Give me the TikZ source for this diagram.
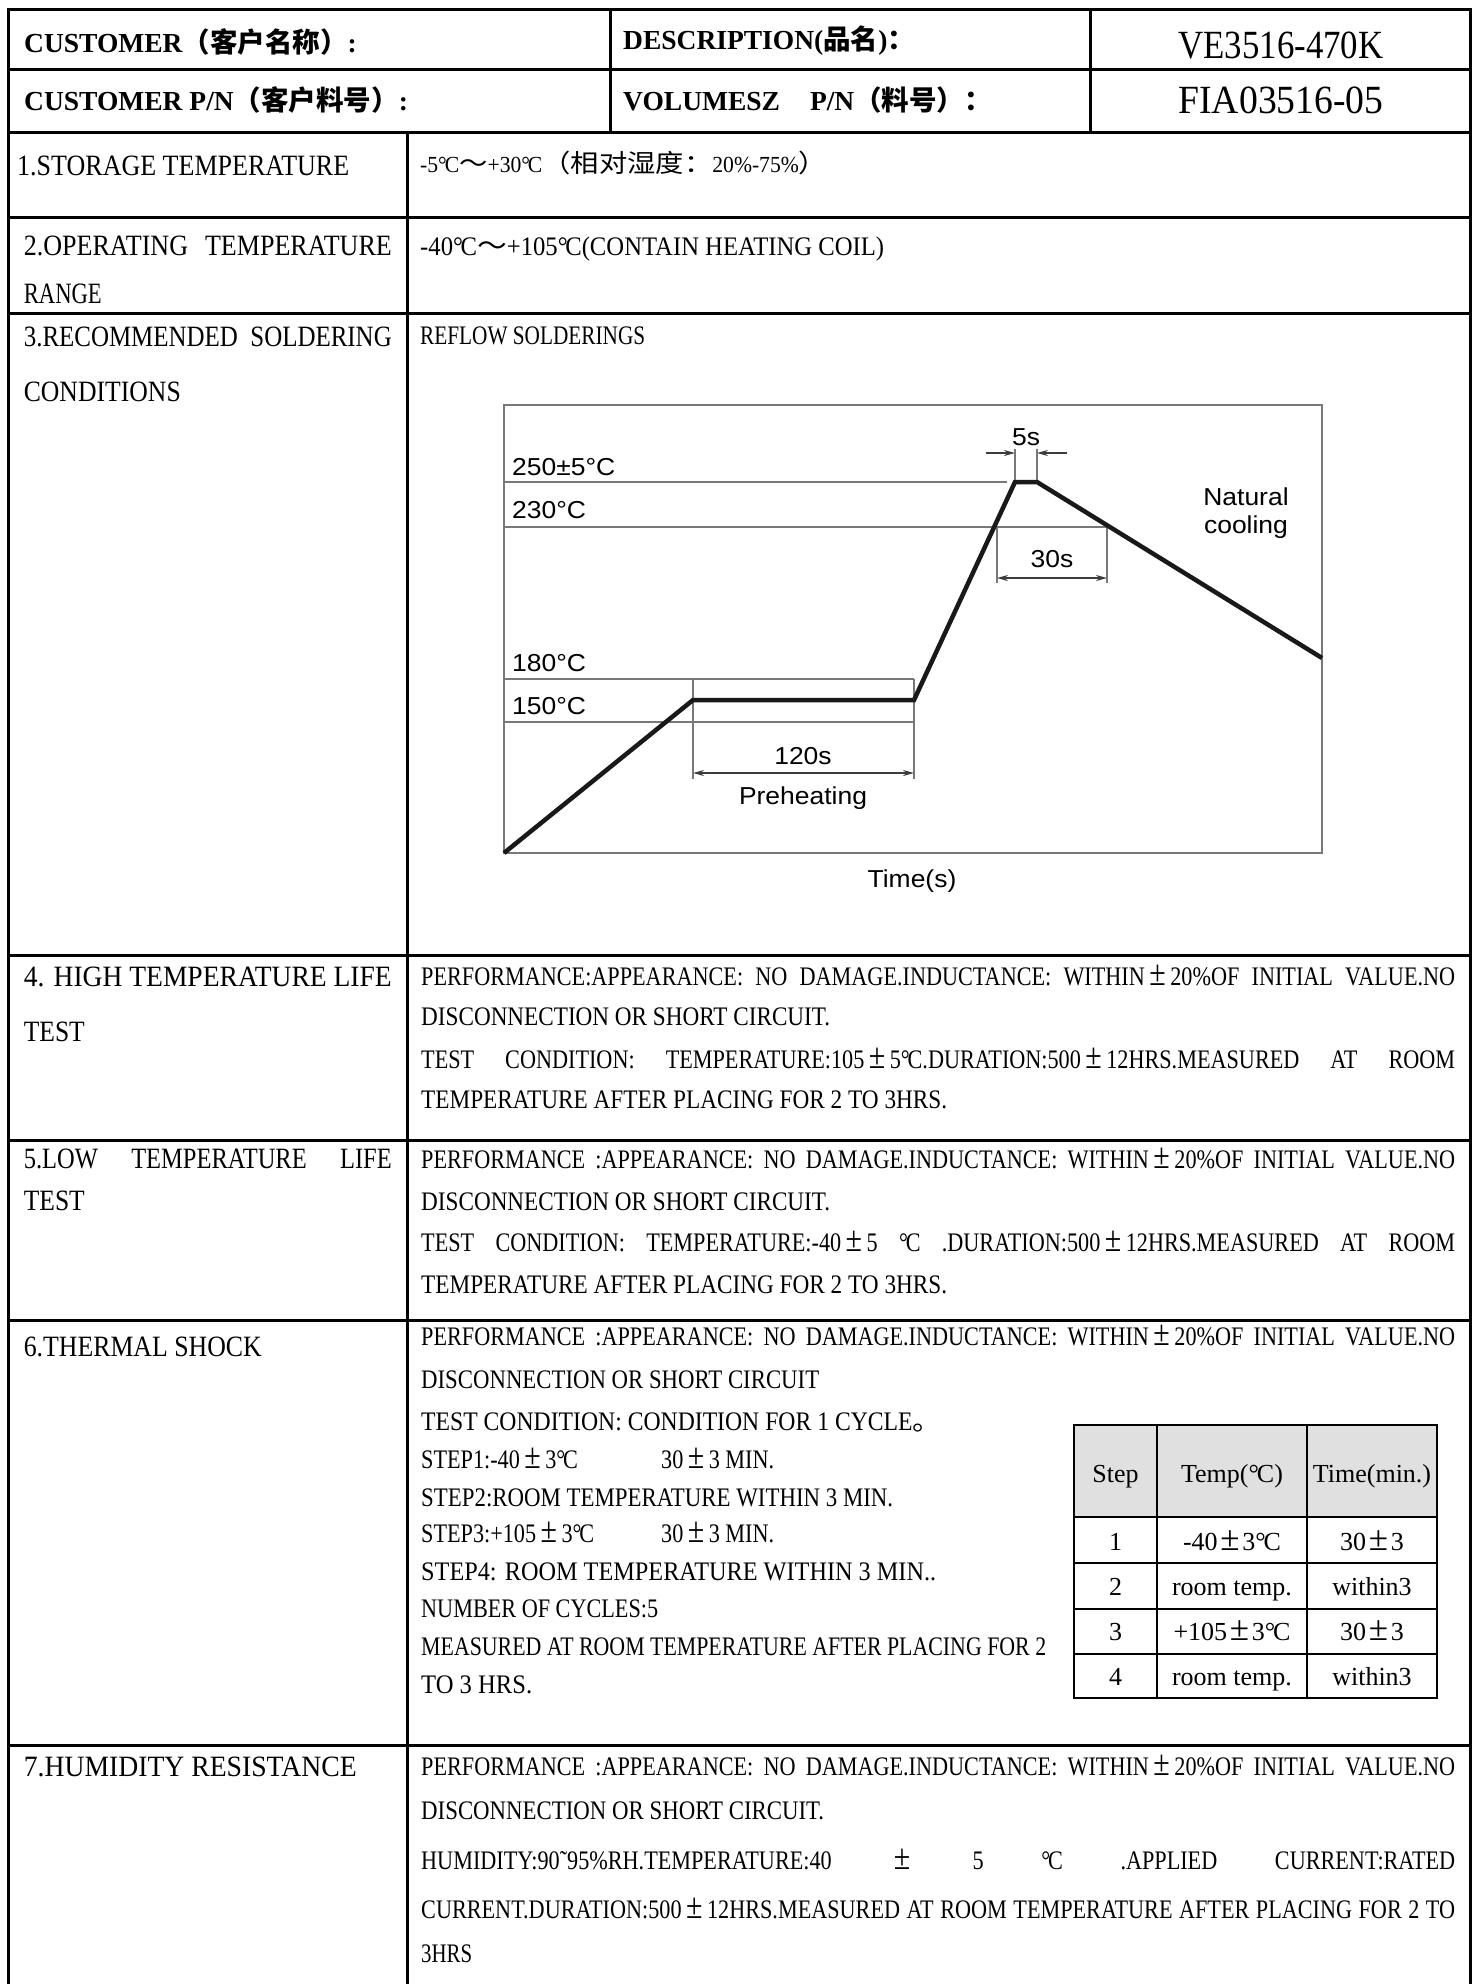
\documentclass[tikz,border=0pt]{standalone}
\usepackage{fontspec}
\usepackage{graphicx}
\usetikzlibrary{arrows.meta}
\setmainfont{Liberation Serif}
\newfontfamily\bodyf[FakeStretch=0.83]{Liberation Serif}
\newfontfamily\cjkf{Noto Sans CJK SC}
\newfontfamily\chartf[FakeStretch=1.08]{Liberation Sans}
\newcommand{\zhx}[1]{{\cjkf #1}}
\newcommand{\pmx}{\makebox[0.95em]{\scalebox{1.35}{±}}}
\newcommand{\dgc}{°\kern-0.08em C}
\newsavebox\jbox
\newcommand{\jfit}[2]{\sbox\jbox{#2}\ifdim\wd\jbox>#1\relax\resizebox{#1}{\height}{\usebox\jbox}\else\makebox[#1][s]{#2}\fi}
\newcommand{\jv}[1]{\jfit{1034pt}{#1}}
\newcommand{\jlab}[1]{\jfit{368pt}{#1}}
\newcommand{\fitw}[2]{\resizebox{#1}{\height}{#2}}
\definecolor{chgray}{RGB}{120,120,120}
\definecolor{dimgray}{RGB}{60,60,60}
\definecolor{thfill}{RGB}{224,224,224}
\begin{document}
\begin{tikzpicture}[x=1pt,y=-1pt,
  grid/.style={line width=3pt,black},
  lbl/.style={anchor=base west,inner sep=0pt,font=\bodyf\fontsize{29.5}{34}\selectfont},
  txt/.style={anchor=base west,inner sep=0pt,font=\bodyf\fontsize{26.75}{30}\selectfont},
  small/.style={anchor=base west,inner sep=0pt,font=\bodyf\fontsize{23}{27}\selectfont},
  hdr/.style={anchor=base west,inner sep=0pt,font=\bfseries\fontsize{27.5}{32}\selectfont},
  hval/.style={anchor=base,inner sep=0pt,font=\bodyf\fontsize{40}{44}\selectfont},
  chl/.style={inner sep=0pt,font=\chartf\fontsize{24.5}{28}\selectfont},
  tcell/.style={anchor=base,inner sep=0pt,font=\fontsize{26}{30}\selectfont},
  chframe/.style={line width=2.8pt,chgray},
  thr/.style={line width=2.2pt,chgray},
  dimline/.style={line width=1.6pt,dimgray},
  dimtip/.style={{Stealth[length=11pt,width=6pt]}-{Stealth[length=11pt,width=6pt]}},
  profile/.style={line width=4.5pt,black!90,line join=miter},
  tline/.style={line width=2.5pt,black}
]
\useasboundingbox (0,0) rectangle (1478,1984);

% ---------- grid ----------
\foreach \yy in {9,69,132,217,313,955,1140,1320,1745}
  \draw[grid] (8,\yy) -- (1470,\yy);
\draw[grid] (8,7.5) -- (8,1984);
\draw[grid] (1470,7.5) -- (1470,1984);
\draw[grid] (610,9) -- (610,132);
\draw[grid] (1090,9) -- (1090,132);
\draw[grid] (407,132) -- (407,1984);

% ---------- header ----------
\node[hdr] (h1) at (24,52) {CUSTOMER{\cjkf （客户名称）}:};
\node[hdr] (h2) at (24,110) {CUSTOMER P/N{\cjkf （客户料号）}:};
\node[hdr] (h3) at (623,49) {DESCRIPTION({\cjkf 品名}){\cjkf ：}};
\node[hdr] (h4) at (623,110) {VOLUMESZ\hspace{30pt}P/N{\cjkf （料号）：}};
\node[hval] (h5) at (1281,58) {\fitw{205pt}{VE3516-470K}};
\node[hval] (h6) at (1281,113) {\fitw{205pt}{FIA03516-05}};

% ---------- row 1 ----------
\node[lbl] (l1) at (17,175) {\fitw{332pt}{1.STORAGE TEMPERATURE}};
\node[small] (v1) at (420,172) {\fitw{407pt}{-5\dgc{\cjkf\fontsize{25}{28}\selectfont ～}+30\dgc{\cjkf\fontsize{25}{28}\selectfont （相对湿度：}20\%-75\%{\cjkf\fontsize{25}{28}\selectfont ）}}};

% ---------- row 2 ----------
\node[lbl] (l2a) at (23.6,255) {\fitw{368pt}{2.OPERATING\hspace{16pt}TEMPERATURE}};
\node[lbl] (l2b) at (23.6,303) {\fitw{78pt}{RANGE}};
\node[txt] (v2) at (420,255) {\fitw{464pt}{-40\dgc\zhx{～}+105\dgc(CONTAIN HEATING COIL)}};

% ---------- row 3 ----------
\node[lbl] (l3a) at (23.6,346) {\fitw{368pt}{3.RECOMMENDED\ \ SOLDERING}};
\node[lbl] (l3b) at (23.6,401) {\fitw{157pt}{CONDITIONS}};
\node[txt] (v3) at (420,344) {\fitw{225pt}{REFLOW SOLDERINGS}};

% chart
\draw[chframe] (504,405) rectangle (1322,853);
\draw[thr] (504,482) -- (1007,482);
\draw[thr] (504,527) -- (1107,527);
\draw[thr] (504,679) -- (914,679);
\draw[thr] (504,722) -- (914,722);
\draw[thr] (693,679) -- (693,779);
\draw[thr] (914,679) -- (914,779);
\draw[thr] (997,527) -- (997,583);
\draw[thr] (1107,527) -- (1107,583);
\draw[thr] (1015,449) -- (1015,482);
\draw[thr] (1037,449) -- (1037,482);
\coordinate (p120a) at (693,773);
\coordinate (p120b) at (914,773);
\coordinate (p30a) at (997,578);
\coordinate (p30b) at (1107,578);
\coordinate (p5a) at (986,453);
\coordinate (p5b) at (1015,453);
\coordinate (p5c) at (1067,453);
\coordinate (p5d) at (1037,453);
\draw[dimline,dimtip] (p120a) -- (p120b);
\draw[dimline,dimtip] (p30a) -- (p30b);
\draw[dimline,-{Stealth[length=11pt,width=6pt]}] (p5a) -- (p5b);
\draw[dimline,-{Stealth[length=11pt,width=6pt]}] (p5c) -- (p5d);
\draw[profile] (504,853) -- (693,700) -- (914,700) -- (1015,482) -- (1037,482) -- (1322,658);
\node[chl,anchor=base west] (c250) at (512,475) {250±5°C};
\node[chl,anchor=base west] (c230) at (512,518) {230°C};
\node[chl,anchor=base west] (c180) at (512,671) {180°C};
\node[chl,anchor=base west] (c150) at (512,714) {150°C};
\node[chl,anchor=base] (cnat) at (1246,505) {Natural};
\node[chl,anchor=base] (ccool) at (1246,533) {cooling};
\node[chl,anchor=base] (c120) at (803,764) {120s};
\node[chl,anchor=base] (cpre) at (803,804) {Preheating};
\node[chl,anchor=base] (ctime) at (912,887) {Time(s)};
\node[chl,anchor=base] (c5s) at (1026,445) {5s};
\node[chl,anchor=base] (c30s) at (1052,567) {30s};

% ---------- row 4 ----------
\node[lbl] (l4a) at (23.6,986) {\fitw{368pt}{4. HIGH TEMPERATURE LIFE}};
\node[lbl] (l4b) at (23.6,1041) {\fitw{61pt}{TEST}};
\node[txt] (v4a) at (421,985) {\jv{PERFORMANCE:APPEARANCE: NO DAMAGE.INDUCTANCE: WITHIN\pmx 20\%OF INITIAL VALUE.NO}};
\node[txt] (v4b) at (421,1025) {\fitw{409pt}{DISCONNECTION OR SHORT CIRCUIT.}};
\node[txt] (v4c) at (421,1068) {\jv{TEST CONDITION: TEMPERATURE:105\pmx 5\dgc.DURATION:500\pmx 12HRS.MEASURED AT ROOM}};
\node[txt] (v4d) at (421,1108) {\fitw{526pt}{TEMPERATURE AFTER PLACING FOR 2 TO 3HRS.}};

% ---------- row 5 ----------
\node[lbl] (l5a) at (23.6,1168) {\jlab{5.LOW TEMPERATURE LIFE}};
\node[lbl] (l5b) at (23.6,1210) {\fitw{61pt}{TEST}};
\node[txt] (v5a) at (421,1168) {\jv{PERFORMANCE :APPEARANCE: NO DAMAGE.INDUCTANCE: WITHIN\pmx 20\%OF INITIAL VALUE.NO}};
\node[txt] (v5b) at (421,1210) {\fitw{409pt}{DISCONNECTION OR SHORT CIRCUIT.}};
\node[txt] (v5c) at (421,1251) {\jv{TEST CONDITION: TEMPERATURE:-40\pmx 5 \dgc\ .DURATION:500\pmx 12HRS.MEASURED AT ROOM}};
\node[txt] (v5d) at (421,1293) {\fitw{526pt}{TEMPERATURE AFTER PLACING FOR 2 TO 3HRS.}};

% ---------- row 6 ----------
\node[lbl] (l6) at (23.6,1356) {\fitw{238pt}{6.THERMAL SHOCK}};
\node[txt] (v6a) at (421,1345) {\jv{PERFORMANCE :APPEARANCE: NO DAMAGE.INDUCTANCE: WITHIN\pmx 20\%OF INITIAL VALUE.NO}};
\node[txt] (v6b) at (421,1388) {\fitw{398pt}{DISCONNECTION OR SHORT CIRCUIT}};
\node[txt] (v6c) at (421,1430) {\fitw{520pt}{TEST CONDITION: CONDITION FOR 1 CYCLE\zhx{。}}};
\node[txt] (v6d) at (421,1468) {\makebox[240pt][l]{STEP1:-40\pmx 3\dgc}30\pmx 3 MIN.};
\node[txt] (v6e) at (421,1506) {\fitw{472pt}{STEP2:ROOM TEMPERATURE WITHIN 3 MIN.}};
\node[txt] (v6f) at (421,1542) {\makebox[240pt][l]{STEP3:+105\pmx 3\dgc}30\pmx 3 MIN.};
\node[txt] (v6g) at (421,1580) {\fitw{515pt}{STEP4: ROOM TEMPERATURE WITHIN 3 MIN..}};
\node[txt] (v6h) at (421,1617) {\fitw{237pt}{NUMBER OF CYCLES:5}};
\node[txt] (v6i) at (421,1655) {\fitw{625pt}{MEASURED AT ROOM TEMPERATURE AFTER PLACING FOR 2}};
\node[txt] (v6j) at (421,1693) {\fitw{111pt}{TO 3 HRS.}};

% small table
\fill[thfill] (1074,1425) rectangle (1437,1517);
\draw[tline] (1074,1425) rectangle (1437,1698);
\foreach \yy in {1517,1563,1609,1654}
  \draw[tline] (1074,\yy) -- (1437,\yy);
\draw[tline] (1157,1425) -- (1157,1698);
\draw[tline] (1307,1425) -- (1307,1698);
\node[tcell] (t01) at (1115.5,1482) {Step};
\node[tcell] (t02) at (1232,1482) {Temp(\dgc)};
\node[tcell] (t03) at (1372,1482) {Time(min.)};
\node[tcell] (t11) at (1115.5,1550) {1};
\node[tcell] (t12) at (1232,1550) {-40\pmx 3\dgc};
\node[tcell] (t13) at (1372,1550) {30\pmx 3};
\node[tcell] (t21) at (1115.5,1595) {2};
\node[tcell] (t22) at (1232,1595) {room temp.};
\node[tcell] (t23) at (1372,1595) {within3};
\node[tcell] (t31) at (1115.5,1640) {3};
\node[tcell] (t32) at (1232,1640) {+105\pmx 3\dgc};
\node[tcell] (t33) at (1372,1640) {30\pmx 3};
\node[tcell] (t41) at (1115.5,1685) {4};
\node[tcell] (t42) at (1232,1685) {room temp.};
\node[tcell] (t43) at (1372,1685) {within3};

% ---------- row 7 ----------
\node[lbl] (l7) at (23.6,1776) {\fitw{333pt}{7.HUMIDITY RESISTANCE}};
\node[txt] (v7a) at (421,1775) {\jv{PERFORMANCE :APPEARANCE: NO DAMAGE.INDUCTANCE: WITHIN\pmx 20\%OF INITIAL VALUE.NO}};
\node[txt] (v7b) at (421,1819) {\fitw{403pt}{DISCONNECTION OR SHORT CIRCUIT.}};
\node[txt] (v7c) at (421,1869) {\jv{HUMIDITY:90˜95\%RH.TEMPERATURE:40 \pmx{} 5 \dgc\ .APPLIED CURRENT:RATED}};
\node[txt] (v7d) at (421,1918) {\jv{CURRENT.DURATION:500\pmx 12HRS.MEASURED AT ROOM TEMPERATURE AFTER PLACING FOR 2 TO}};
\node[txt] (v7e) at (421,1962) {\fitw{51pt}{3HRS}};
\end{tikzpicture}
\end{document}
